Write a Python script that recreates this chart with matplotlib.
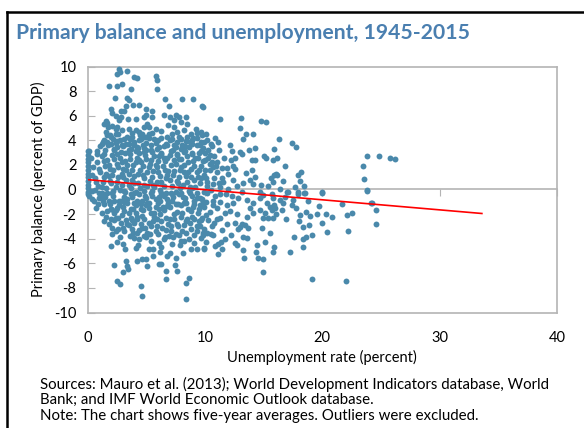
import matplotlib
matplotlib.use("Agg")
import matplotlib.pyplot as plt
from matplotlib.lines import Line2D

plt.rcParams['font.family'] = ['Lato', 'DejaVu Sans']
plt.rcParams['axes.unicode_minus'] = False

# five-year averages (unemployment rate, primary balance)
zero_unemp = [(0.0, 3.1), (0.0, 2.8), (0.0, 2.5), (0.0, 2.2), (0.0, 1.9), (0.0, 1.6),
              (0.0, 1.3), (0.0, 1.0), (0.0, 0.7), (0.0, 0.4), (0.0, 0.1), (0.0, -0.2),
              (0.0, -0.4)]

upper_left = [(2.68, 9.83), (2.77, 9.56), (2.54, 9.42), (3.34, 9.61), (3.96, 9.15), (4.19, 9.07),
              (1.83, 8.42), (2.54, 8.42), (2.97, 8.61), (3.68, 8.2), (2.34, 7.44), (3.4, 7.44),
              (3.56, 7.25), (4.39, 6.9), (3.9, 6.9), (3.25, 6.8), (1.97, 6.58), (2.83, 6.36),
              (3.1, 6.36), (2.11, 6.25), (2.4, 5.98), (2.83, 5.9), (2.68, 5.63), (3.48, 5.71),
              (4.16, 5.76), (4.81, 5.9), (1.55, 5.55), (1.69, 5.44), (1.4, 5.36), (1.75, 5.09),
              (2.11, 5.17), (2.4, 4.95), (2.54, 5.09), (2.97, 4.81), (3.54, 4.95), (4.1, 4.81),
              (4.39, 4.68), (4.67, 4.54), (4.81, 5.09), (1.55, 4.68), (1.69, 4.41), (1.97, 4.27),
              (2.4, 4.54), (1.4, 4.0), (1.69, 3.87), (2.2, 4.08), (2.54, 3.92), (3.1, 4.14),
              (3.4, 4.27), (3.82, 4.27), (3.96, 3.87), (4.39, 4.0), (4.81, 4.27), (1.26, 3.73),
              (1.75, 3.6), (2.54, 3.46), (2.97, 3.6), (3.54, 3.73), (3.68, 3.33), (4.25, 3.46),
              (4.76, 3.6), (0.13, 3.11), (0.84, 3.11), (1.4, 2.92), (2.26, 3.19), (2.83, 3.05),
              (4.1, 3.11), (4.81, 3.05)]

upper_mid = [(5.8, 9.23), (5.95, 8.88), (5.95, 8.2), (6.57, 7.33), (8.08, 7.39), (9.01, 7.33),
             (9.78, 6.77), (6.94, 6.77), (5.52, 6.39), (4.95, 6.58), (6.51, 6.09), (7.03, 5.9),
             (7.51, 6.03), (7.79, 5.9), (8.36, 5.9), (4.95, 6.03), (5.52, 5.9), (7.37, 5.63),
             (7.94, 5.49), (8.5, 5.36), (9.21, 4.95), (5.1, 5.36), (5.24, 5.09), (5.8, 4.95),
             (6.29, 4.73), (6.85, 5.28), (7.37, 5.09), (7.65, 4.68), (8.22, 4.81), (8.79, 4.54),
             (9.36, 4.63), (9.78, 4.41), (5.24, 4.54), (4.95, 4.27), (5.66, 4.14), (6.8, 4.27),
             (7.22, 4.08), (7.94, 4.14), (8.36, 3.92), (8.93, 4.0), (9.64, 3.87), (5.38, 3.6),
             (6.09, 3.46), (6.66, 3.73), (7.51, 3.46), (8.08, 3.6), (8.65, 3.46), (9.36, 3.6),
             (4.95, 3.19), (5.52, 3.05), (6.23, 2.92), (7.08, 3.11), (7.65, 2.92), (8.22, 3.05),
             (8.93, 3.0), (9.7, 3.11)]

upper_right = [(9.81, 6.7), (11.28, 5.7), (13.05, 5.84), (13.0, 5.0), (14.75, 5.57), (15.2, 5.5),
               (13.5, 4.54), (14.07, 4.48), (13.27, 4.1), (16.3, 4.1), (17.42, 3.78), (17.76, 3.45),
               (15.9, 3.26), (14.3, 3.4), (13.73, 3.24), (13.0, 3.05), (13.2, 2.9), (12.28, 3.13),
               (12.6, 2.6), (12.2, 2.37), (14.0, 2.42), (14.3, 2.37), (15.0, 2.7), (15.25, 2.6),
               (16.17, 2.53), (15.77, 2.37), (16.85, 1.88), (14.0, 1.61), (13.5, 1.34), (12.56, 1.67),
               (11.85, 1.77), (11.43, 1.77), (10.94, 1.88), (16.06, 1.29), (15.9, 1.15), (16.17, 1.15),
               (18.19, 1.42), (17.96, 1.15), (12.36, 0.8), (13.84, 0.8), (14.27, 1.0), (15.6, 0.96),
               (15.83, 0.6), (16.68, 0.69), (18.1, 0.69), (18.45, 0.26), (17.7, 0.2), (16.4, 0.07),
               (15.4, 0.26), (14.75, 0.34), (14.1, 0.42), (13.27, 0.53), (12.76, 0.26), (12.0, 0.07),
               (11.28, 0.2), (10.7, 0.47), (11.57, 0.6), (10.2, 0.6), (14.7, -0.2), (15.7, -0.34),
               (17.0, -0.2), (17.9, -0.34), (18.5, -0.29), (20.0, -0.26), (23.8, -0.07), (23.5, 1.88),
               (23.56, 0.85), (23.8, 2.75), (24.8, 2.7), (25.8, 2.56), (26.2, 2.48),
               (9.7, 4.7), (9.9, 3.9), (10.1, 4.5), (10.3, 3.2), (10.5, 3.7), (10.8, 2.7),
               (10.9, 4.2), (11.0, 2.2), (10.0, 3.0), (10.4, 2.8)]

lower_left = [(1.97, -4.6), (2.54, -4.27), (3.17, -4.81), (2.26, -6.17), (3.25, -5.82), (3.4, -6.22),
              (3.05, -6.71), (3.45, -6.5), (2.54, -7.44), (2.77, -7.71), (4.25, -5.82), (4.67, -5.68),
              (4.59, -7.85), (4.67, -8.66), (4.1, -4.73), (4.39, -4.06), (3.96, -3.92), (2.4, -3.38),
              (2.11, -3.11), (1.97, -2.43), (2.4, -2.29), (2.83, -2.7), (3.4, -2.84), (3.82, -3.24),
              (4.25, -3.51), (4.67, -3.11), (4.81, -3.79), (3.11, -3.38), (3.68, -2.29), (4.25, -2.43),
              (4.67, -2.16), (1.69, -1.75), (1.97, -1.62), (2.26, -1.89), (2.54, -1.48), (3.11, -1.75),
              (3.68, -1.62), (4.1, -1.89), (4.53, -1.62), (0.13, -0.53), (0.55, -0.94), (0.98, -0.67),
              (1.4, -1.21), (1.83, -0.94), (2.83, -0.94), (3.4, -0.8), (3.96, -1.07), (4.67, -0.94),
              (0.41, -0.13), (1.26, -0.26), (2.11, -0.26), (3.11, -0.13), (3.96, -0.26), (4.81, -0.13)]

lower_mid = [(8.36, -8.88), (8.36, -7.58), (8.65, -7.17), (6.66, -7.31), (6.66, -6.63), (7.65, -6.63),
             (7.42, -6.17), (6.09, -6.09), (6.29, -6.09), (5.1, -6.22), (4.95, -5.68), (8.16, -5.19),
             (8.79, -4.87), (9.3, -4.87), (9.92, -4.73), (5.24, -4.81), (5.6, -4.87), (6.17, -5.09),
             (6.8, -5.41), (7.03, -5.14), (7.22, -4.46), (7.88, -4.54), (8.22, -4.19), (8.65, -4.06),
             (9.07, -4.33), (9.64, -3.92), (9.87, -3.51), (5.38, -4.19), (6.09, -4.33), (6.51, -4.06),
             (6.94, -3.79), (7.51, -3.65), (8.08, -3.38), (8.79, -3.24), (9.36, -2.97), (5.1, -3.51),
             (5.8, -3.38), (6.37, -3.11), (7.08, -2.97), (7.65, -2.84), (8.36, -2.57), (9.07, -2.43),
             (9.78, -2.29), (5.24, -2.7), (5.95, -2.43), (6.66, -2.29), (7.37, -2.02), (8.08, -1.89),
             (8.79, -1.75), (9.5, -1.62), (5.38, -1.89), (6.09, -1.62), (6.8, -1.35), (7.51, -1.21),
             (8.22, -1.07), (9.07, -0.94), (9.78, -0.8), (5.1, -1.07), (5.8, -0.8), (6.51, -0.53),
             (7.22, -0.4), (7.94, -0.26), (8.65, -0.13), (9.36, -0.26), (5.38, -0.26), (6.17, 0.0)]

lower_right = [(13.13, -0.18), (14.98, -0.45), (17.1, -0.18), (17.96, -0.18), (18.44, -0.31),
               (20.0, -0.18), (23.8, -0.1), (17.54, -0.85), (18.8, -0.9), (19.75, -1.31),
               (21.65, -1.18), (24.15, -1.07), (24.6, -1.67), (24.55, -2.8), (22.08, -2.07),
               (22.5, -1.88), (22.17, -3.35), (20.83, -2.21), (20.32, -1.99), (19.52, -1.99),
               (18.96, -2.15), (18.6, -1.83), (18.1, -2.07), (18.05, -2.53), (18.87, -2.89),
               (18.4, -3.02), (19.95, -2.75), (20.38, -3.43), (19.1, -3.7), (18.6, -3.83),
               (18.33, -4.05), (18.33, -4.7), (17.6, -3.83), (17.25, -5.05), (16.9, -2.42),
               (16.06, -1.99), (15.83, -2.34), (15.4, -2.34), (14.92, -2.34), (14.7, -1.67),
               (15.7, -1.67), (15.97, -1.53), (15.55, -1.39), (15.26, -1.12), (16.68, -1.12),
               (16.4, -0.85), (17.4, -1.26), (17.8, -1.53), (15.55, -3.56), (15.12, -4.24),
               (14.86, -3.16), (15.9, -4.7), (15.77, -5.05), (14.47, -4.51), (14.35, -5.05),
               (14.5, -5.54), (14.92, -5.68), (14.98, -6.68), (13.27, -4.92), (13.36, -5.6),
               (12.7, -4.51), (12.56, -4.38), (13.27, -3.83), (13.56, -3.97), (13.7, -3.16),
               (13.4, -2.89), (13.0, -3.02), (13.13, -2.8), (12.85, -3.24), (12.2, -3.7),
               (11.71, -4.05), (11.34, -4.24), (11.14, -4.43), (11.43, -4.86), (11.14, -5.24),
               (10.86, -4.59), (9.92, -4.86), (10.09, -4.24), (10.72, -3.7), (10.15, -3.56),
               (9.86, -3.7), (19.1, -7.3), (22.0, -7.41), (12.56, -2.75), (12.14, -1.72),
               (11.71, -1.94), (11.28, -2.34), (12.7, -1.99), (13.56, -2.21), (14.13, -1.94),
               (13.84, -1.53), (14.13, -1.12), (13.6, -0.85), (12.42, -1.12), (11.85, -1.26),
               (11.28, -0.99), (12.85, -0.72), (14.7, -0.72), (15.77, -0.72), (16.8, -0.64),
               (15.9, -1.26), (16.54, -1.67), (15.12, -1.94), (24.2, -1.07)]

core = [(0.3, 2.6), (0.5, 1.8), (0.6, 0.9), (0.8, 2.2), (0.9, 0.3), (1.1, 1.4), (1.2, 2.7), (1.3, 0.6),
        (1.5, 1.9), (1.6, 0.1), (1.7, 2.4), (1.8, 1.1), (2.0, 0.5), (2.1, 2.8), (2.2, 1.6), (2.4, 0.2),
        (2.5, 2.1), (2.6, 1.0), (2.8, 2.6), (2.9, 0.4), (3.0, 1.7), (3.2, 2.3), (3.3, 0.8), (3.5, 1.3),
        (3.6, 2.9), (3.7, 0.1), (3.9, 2.0), (4.0, 1.1), (4.2, 2.6), (4.3, 0.5), (4.5, 1.6), (4.6, 2.2),
        (4.8, 0.9), (4.9, 2.8), (5.1, 0.3), (5.2, 1.8), (5.4, 2.4), (5.5, 1.0), (5.7, 0.2), (5.8, 2.0),
        (6.0, 1.4), (6.1, 2.7), (6.3, 0.6), (6.4, 1.9), (6.6, 2.3), (6.7, 0.9), (6.9, 1.5), (7.0, 2.8),
        (7.2, 0.3), (7.3, 1.2), (7.5, 2.1), (7.6, 0.7), (7.8, 2.5), (7.9, 1.6), (8.1, 0.4), (8.2, 2.0),
        (8.4, 1.1), (8.5, 2.7), (8.7, 0.2), (8.8, 1.7), (9.0, 2.3), (9.1, 0.8), (9.3, 1.4), (9.4, 2.6),
        (9.6, 0.5), (9.7, 1.9), (9.9, 1.2), (10.0, 2.4), (10.2, 0.3), (10.4, 1.6), (10.6, 2.2),
        (10.8, 0.9), (11.0, 1.4),
        (0.4, -0.8), (0.7, -1.5), (1.0, -0.3), (1.2, -1.9), (1.5, -0.6), (1.9, -1.2), (2.2, -0.5),
        (2.4, -1.7), (2.7, -0.9), (3.0, -1.4), (3.2, -0.2), (3.5, -1.9), (3.8, -0.6), (4.1, -1.3),
        (4.4, -0.4), (4.7, -1.7), (5.0, -0.7), (5.2, -1.5), (5.5, -0.5), (5.7, -1.9), (6.0, -1.1),
        (6.3, -0.3), (6.5, -1.7), (6.8, -0.8), (7.0, -1.4), (7.3, -0.6), (7.6, -1.8), (7.8, -0.4),
        (8.0, -1.3), (8.3, -0.7), (8.6, -1.6), (8.9, -0.5), (9.1, -1.2), (9.4, -1.9), (9.6, -0.7),
        (9.9, -1.4), (10.2, -0.3), (10.4, -1.8), (10.7, -0.9), (11.0, -1.5), (11.3, -0.4),
        (1.8, -2.8), (2.1, -3.6), (2.6, -2.3), (3.0, -3.1), (3.3, -2.5), (3.6, -3.8), (4.0, -2.7),
        (4.4, -3.3), (4.8, -2.4), (5.0, -3.9), (5.4, -3.0), (5.7, -2.2), (6.0, -3.6), (6.3, -2.6),
        (6.7, -3.3), (7.0, -2.4), (7.3, -3.9), (7.7, -3.0), (8.0, -2.2), (8.4, -3.5), (8.7, -2.7),
        (9.1, -3.7), (9.5, -2.6), (9.9, -3.2), (10.3, -2.5), (10.6, -3.0), (11.0, -2.4),
        (1.1, 3.5), (1.9, 4.4), (2.3, 3.3), (2.8, 4.0), (3.3, 3.7), (3.8, 4.6), (4.3, 3.4), (4.6, 4.1),
        (5.0, 3.8), (5.5, 4.6), (5.9, 3.3), (6.3, 4.2), (6.8, 3.6), (7.2, 4.5), (7.6, 3.9), (8.0, 3.3),
        (8.5, 4.3), (8.9, 3.7), (9.3, 4.2), (9.8, 3.4), (10.2, 4.0), (10.6, 3.5), (11.1, 3.9)]

# the thickest part of the cloud, where single dots overlap
core_dense = [(0.4, 1.2), (0.6, 0.0), (0.8, 2.9), (0.9, -1.2), (1.0, 1.7), (1.2, 0.2), (1.3, -0.9),
              (1.4, 2.3), (1.6, 1.3), (1.7, -0.3), (1.8, 2.0), (1.9, 0.7), (2.0, -1.6), (2.1, 1.2),
              (2.3, 2.5), (2.3, -0.9), (2.5, 0.6), (2.6, 1.8), (2.7, -1.3), (2.8, 0.0), (2.9, 2.2),
              (3.0, 1.0), (3.1, -0.6), (3.2, 3.0), (3.3, 1.6), (3.4, -1.1), (3.5, 0.4), (3.6, 2.5),
              (3.7, -0.4), (3.8, 1.6), (3.9, -1.6), (4.0, 0.5), (4.1, 2.2), (4.2, -0.9), (4.3, 1.3),
              (4.4, 3.0), (4.5, 0.1), (4.6, -1.2), (4.7, 1.9), (4.8, 0.4), (4.9, -0.5), (5.0, 2.5),
              (5.1, 1.4), (5.2, -1.1), (5.3, 0.7), (5.4, 3.2), (5.5, -0.1), (5.6, 1.5), (5.7, 2.7),
              (5.8, -1.4), (5.9, 0.6), (6.0, 2.3), (6.1, -0.6), (6.2, 1.1), (6.3, 3.0), (6.4, -1.4),
              (6.5, 0.3), (6.6, 1.6), (6.7, -0.3), (6.8, 2.6), (6.9, -1.1), (7.0, 0.8), (7.1, 2.0),
              (7.2, -0.9), (7.3, 3.2), (7.4, 1.5), (7.5, -0.2), (7.6, 2.8), (7.7, -1.2), (7.8, 1.0),
              (7.9, 0.1), (8.0, 2.5), (8.1, -0.6), (8.2, 1.4), (8.3, 3.1), (8.4, -1.1), (8.5, 0.6),
              (8.6, 2.2), (8.7, -0.3), (8.8, 1.0), (8.9, 2.9), (9.0, -1.4), (9.1, 1.9), (9.2, 0.2),
              (9.3, -0.7), (9.4, 1.0), (9.5, 3.0), (9.6, -1.3), (9.7, 0.9), (9.8, 2.3), (9.9, -0.2),
              (10.0, 1.6), (10.1, -1.0), (10.3, 2.6), (10.5, 0.0), (10.7, 1.8), (10.9, -0.5),
              (1.5, 3.2), (2.0, 3.7), (2.6, 4.5), (3.0, 3.5), (3.6, 4.1), (4.0, 3.6), (4.5, 4.4),
              (5.2, 4.2), (5.8, 3.8), (6.5, 3.5), (7.0, 4.0), (7.8, 4.3), (8.3, 3.5), (9.0, 4.2),
              (1.6, -2.2), (2.3, -2.5), (2.9, -2.1), (3.5, -2.9), (4.2, -2.2), (4.9, -3.1), (5.6, -2.6),
              (6.2, -2.0), (6.9, -2.8), (7.4, -2.4), (8.2, -2.9), (8.9, -2.2), (9.6, -3.0), (10.1, -2.1),
              (2.8, -3.9), (3.9, -3.5), (5.3, -3.6), (6.6, -3.9), (7.8, -3.7), (9.3, -3.4), (10.5, -3.6),
              (11.5, 0.9), (11.8, -0.4), (12.0, 1.3), (12.3, -0.5), (11.6, 2.6), (11.9, -2.8),
              (12.4, 1.9), (11.2, 3.2), (12.1, 3.6), (11.5, -3.3)]

core_fill = [(0.7, 0.6), (1.1, -0.6), (1.4, 1.0), (1.9, 1.7), (2.2, -0.1), (2.5, 2.9), (2.9, 1.3),
             (3.1, -1.0), (3.4, 2.0), (3.8, 0.8), (4.1, -0.2), (4.4, 2.4), (4.7, 1.2), (5.0, -1.3),
             (5.3, 2.1), (5.6, 0.4), (5.9, 1.8), (6.2, -0.9), (6.5, 2.6), (6.8, 1.2), (7.1, -0.3),
             (7.4, 2.4), (7.7, 0.5), (8.0, 1.8), (8.3, -1.0), (8.6, 1.4), (8.9, 0.1), (9.2, 2.6),
             (9.5, 1.6), (9.8, -1.0), (10.1, 0.9), (10.4, 2.1), (10.7, -1.3), (11.2, 0.5),
             (1.3, 3.9), (2.4, 3.8), (3.5, 3.2), (4.8, 3.4), (6.0, 4.0), (7.4, 3.6), (8.7, 3.9),
             (9.6, 3.6), (1.4, -2.6), (2.6, -3.2), (3.8, -2.5), (4.6, -2.8), (5.9, -3.0),
             (7.1, -3.4), (8.5, -2.4), (9.7, -2.5), (10.8, -2.7), (4.3, -4.5), (6.3, -4.7),
             (8.0, -4.2), (3.0, -4.4), (5.6, -5.4), (7.5, -5.6)]

# fitted line
fit_x = [0.0, 33.6]
fit_y = [0.8, -1.95]

x_ticks = [0, 10, 20, 30, 40]
y_ticks = list(range(-10, 11, 2))

groups = [zero_unemp, upper_left, upper_mid, upper_right, lower_left, lower_mid, lower_right,
          core, core_dense, core_fill]
unemp = [p[0] for g in groups for p in g]
balance = [p[1] for g in groups for p in g]

grey = '#b4b4b4'
dot = '#4a89ab'

fig = plt.figure(figsize=(5.84, 4.28), dpi=100)
ax = fig.add_axes([87.5 / 584, 1 - 312.5 / 428, (557 - 87.5) / 584, (312.5 - 66.5) / 428])

ax.scatter(unemp, balance, s=18, color=dot, linewidths=0, zorder=3, clip_on=False)
ax.plot(fit_x, fit_y, color='#ff0000', lw=1.2, zorder=4)

ax.set_xlim(0, 40)
ax.set_ylim(-10, 10)
ax.set_xticks(x_ticks)
ax.set_yticks(y_ticks)
for s in ax.spines.values():
    s.set_color(grey)
    s.set_linewidth(1.2)
ax.tick_params(axis='x', length=0, pad=13, labelsize=10.5)
ax.tick_params(axis='y', direction='in', length=5, color=grey, pad=8, labelsize=10.5)

# horizontal axis crossing at zero
sec = ax.secondary_xaxis(0.5)
sec.set_xticks(x_ticks)
sec.tick_params(direction='in', length=5, color=grey, labelbottom=False, labeltop=False)
for s in sec.spines.values():
    s.set_color(grey)
    s.set_linewidth(1.2)

ax.set_xlabel('Unemployment rate (percent)', fontsize=10.5, labelpad=4)
ax.set_ylabel('Primary balance (percent of GDP)', fontsize=10.5, labelpad=6)

fig.text(16 / 584, 1 - 33 / 428, 'Primary balance and unemployment, 1945-2015',
         fontsize=15.2, fontweight='bold', color='#4a7fb0', va='center', ha='left')

notes = ['Sources: Mauro et al. (2013); World Development Indicators database, World',
         'Bank; and IMF World Economic Outlook database.',
         'Note: The chart shows five-year averages. Outliers were excluded.']
for i, line in enumerate(notes):
    fig.text(40 / 584, 1 - (384 + 16 * i) / 428, line, fontsize=10.8, va='center', ha='left')

# frame lines on the left and top
fig.add_artist(Line2D([7 / 584, 7 / 584], [0, 1 - 11.5 / 428], color='black', lw=1.8))
fig.add_artist(Line2D([7 / 584, 1], [1 - 11.5 / 428, 1 - 11.5 / 428], color='black', lw=1.8))

fig.savefig('out.png', dpi=100)
